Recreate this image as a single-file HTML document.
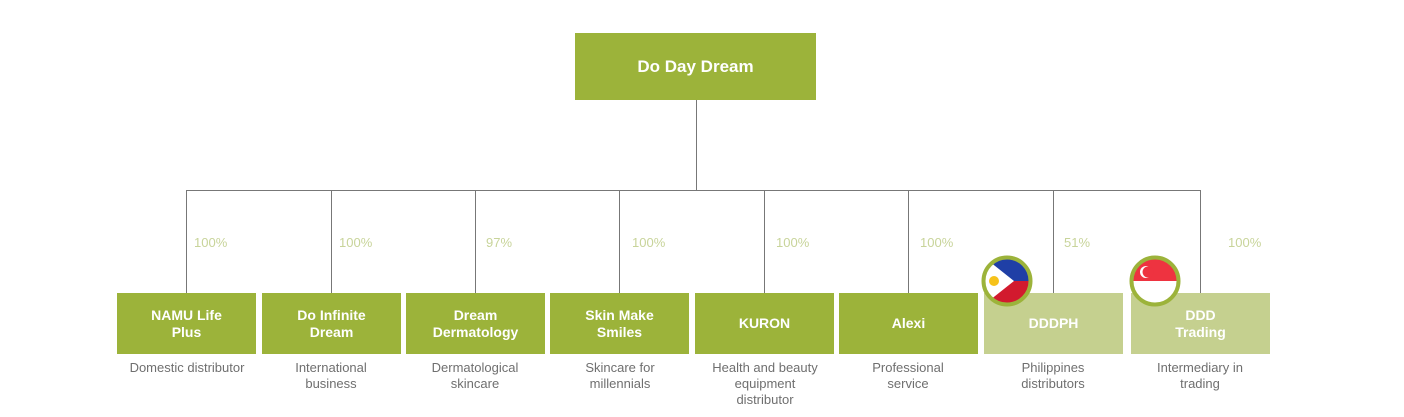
<!DOCTYPE html><html><head><style>
body{margin:0;width:1404px;height:417px;background:#fff;position:relative;font-family:"Liberation Sans",sans-serif;overflow:hidden}
.b{position:absolute;top:293px;width:139px;height:61px;background:#9cb33a;color:#fff;font-weight:bold;font-size:14px;display:flex;align-items:center;justify-content:center;text-align:center;line-height:17px}
.l{background:#c5d08f}
.d{position:absolute;top:360px;width:150px;text-align:center;color:#6f6f6f;font-size:13px;line-height:16px}
.p{position:absolute;top:235px;color:#c8d49a;font-size:13px}
.v{position:absolute;top:190px;width:1px;height:103px;background:#777}
</style></head><body>
<div style="position:absolute;left:575px;top:33px;width:241px;height:67px;background:#9cb33a;color:#fff;font-weight:bold;font-size:17px;display:flex;align-items:center;justify-content:center">Do Day Dream</div>
<div style="position:absolute;left:696px;top:100px;width:1px;height:90px;background:#777"></div>
<div style="position:absolute;left:186px;top:190px;width:1015px;height:1px;background:#777"></div>
<div class="v" style="left:186px"></div><div class="v" style="left:331px"></div><div class="v" style="left:475px"></div><div class="v" style="left:619px"></div><div class="v" style="left:764px"></div><div class="v" style="left:908px"></div><div class="v" style="left:1053px"></div><div class="v" style="left:1200px"></div>
<div class="p" style="left:194px">100%</div><div class="p" style="left:339px">100%</div><div class="p" style="left:486px">97%</div><div class="p" style="left:632px">100%</div><div class="p" style="left:776px">100%</div><div class="p" style="left:920px">100%</div><div class="p" style="left:1064px">51%</div><div class="p" style="left:1228px">100%</div>
<div class="b" style="left:117px">NAMU Life<br>Plus</div>
<div class="b" style="left:262px">Do Infinite<br>Dream</div>
<div class="b" style="left:406px">Dream<br>Dermatology</div>
<div class="b" style="left:550px">Skin Make<br>Smiles</div>
<div class="b" style="left:695px">KURON</div>
<div class="b" style="left:839px">Alexi</div>
<div class="b l" style="left:984px">DDDPH</div>
<div class="b l" style="left:1131px">DDD<br>Trading</div>
<div class="d" style="left:112px">Domestic distributor</div>
<div class="d" style="left:256px">International<br>business</div>
<div class="d" style="left:400px">Dermatological<br>skincare</div>
<div class="d" style="left:545px">Skincare for<br>millennials</div>
<div class="d" style="left:690px">Health and beauty<br>equipment<br>distributor</div>
<div class="d" style="left:833px">Professional<br>service</div>
<div class="d" style="left:978px">Philippines<br>distributors</div>
<div class="d" style="left:1125px">Intermediary in<br>trading</div>
<svg style="position:absolute;left:980px;top:254px" width="54" height="54" viewBox="0 0 54 54">
<defs><clipPath id="c1"><circle cx="27" cy="27" r="22"/></clipPath></defs>
<g clip-path="url(#c1)"><rect x="0" y="0" width="54" height="27" fill="#1f3fa6"/><rect x="0" y="27" width="54" height="27" fill="#d21a2e"/><polygon points="0,0 34,27 0,54" fill="#fff"/><circle cx="14" cy="27" r="5" fill="#f6c21a"/></g>
<circle cx="27" cy="27" r="23.5" fill="none" stroke="#9cb33a" stroke-width="4"/></svg>
<svg style="position:absolute;left:1128px;top:254px" width="54" height="54" viewBox="0 0 54 54">
<defs><clipPath id="c2"><circle cx="27" cy="27" r="22"/></clipPath></defs>
<g clip-path="url(#c2)"><rect x="0" y="0" width="54" height="27" fill="#ee3340"/><rect x="0" y="27" width="54" height="27" fill="#fff"/><circle cx="18" cy="18" r="6" fill="#fff"/><circle cx="20" cy="18" r="5.5" fill="#ee3340"/></g>
<circle cx="27" cy="27" r="23.5" fill="none" stroke="#9cb33a" stroke-width="4"/></svg>
</body></html>
